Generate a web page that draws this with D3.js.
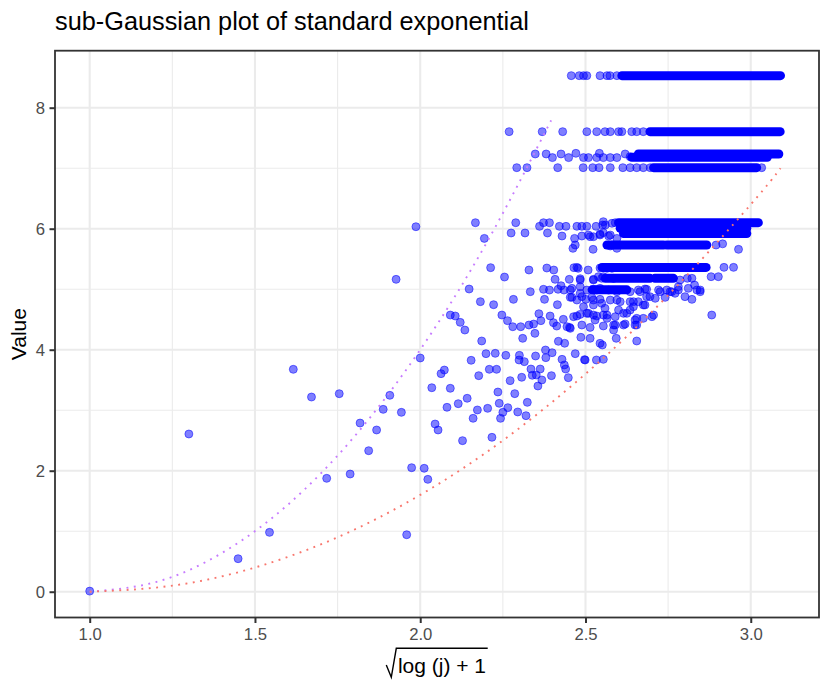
<!DOCTYPE html>
<html><head><meta charset="utf-8">
<script src="https://cdn.jsdelivr.net/npm/d3@7"></script>
<style>
body{margin:0;background:#fff}
svg{display:block}
text{font-family:"Liberation Sans",Arial,Helvetica,sans-serif}
</style>
</head><body>
<svg id="chart" width="830" height="692"></svg>
<script>
// ---------- data ----------
const pointX = [
 1.000,1.300,1.449,1.544,1.616,1.671,1.717,1.755,1.788,1.818,1.844,1.868,1.888,1.908,1.927,1.943,1.959,1.974,1.987,2.000,
 2.012,2.023,2.035,2.045,2.054,2.063,2.073,2.081,2.091,
 2.186,2.310,2.418,2.437,2.486,2.514,2.551,2.593,
 2.154,2.199,2.227,2.259,2.300,2.299,2.315,2.349,2.379,2.380,2.399,2.429,2.436,2.440,2.469,2.497,2.499,2.533,2.554,
 2.177,2.209,2.231,2.272,2.307,2.335,2.339,2.351,2.363,2.368,2.356,2.397,2.448,
 2.235,2.286,2.142,2.115,2.173,2.204,2.239,2.265,2.250,2.243,2.160,2.295,2.320,2.324,2.128,2.217,
 2.167,2.289,2.194,2.275,2.317,2.361,2.373,2.391,2.385,2.421,2.441,2.429,2.474,2.489,2.504,2.532,2.552,2.554,2.590,2.603,
 2.467,2.462,2.489,2.509,2.524,2.544,2.554,2.575,2.580,2.595,2.523,
 2.213,2.255,2.329,2.383,2.404,2.465,2.478,2.508,2.544,2.565,2.580,
 2.408,2.451,2.426,2.484,2.524,2.539,2.554,2.585,
 2.148,2.182,2.222,2.282,2.333,2.373,2.391,2.417,2.435,2.459,2.484,2.504,2.524,2.544,2.570,2.595,
 2.376,2.415,2.454,2.474,2.501,2.524,2.549,2.575,2.595,
 2.091,2.106,2.121,2.135,2.247,2.264,2.280,2.304,2.329,2.343,2.347,2.359,2.365,2.393,2.403,2.413,2.433,2.444,2.452,2.464,
 2.484,2.489,2.504,2.514,2.524,2.529,2.554,2.565,2.585,2.590,
 2.895,2.915,2.963,2.880,2.902,2.919,2.948,
 2.786,2.808,2.830,2.847,2.822,2.801,2.811,2.837,2.781,
 2.635,2.660,2.680,2.695,2.726,2.756,
 2.645,2.675,2.615,2.635,2.615,2.650,2.675,2.701,2.650,2.655,2.882,
 2.524,2.549,2.822,2.534,2.665,2.685,2.721,2.746,2.761,2.781,2.847,
 2.519,2.544,2.605,2.635,2.660,2.685,2.711,2.741,2.771,
 2.524,2.559,2.600,2.645,2.680,2.534,2.565,2.625,2.655,2.706,
 2.554,2.590,2.620,2.655,2.585,2.544,
 2.484,2.454,2.484,2.459,2.489,2.494,2.474,2.509,2.454,
 2.560,2.580,2.514,2.544,2.570,2.595,2.469,2.575,2.474,
 2.457,2.481,2.494,2.504,2.544,2.565,2.574,2.595,
 2.269,2.369,2.431,2.504,2.534,2.559,2.575,2.600,2.610,2.640,2.655,2.675,
 2.348,2.381,2.426,2.471,2.542,2.620,
 2.400,2.449,2.494,2.509,2.534,2.554,2.575,2.595,2.635,
 2.292,2.323,2.416,2.493,2.522,2.541,2.575,2.613,2.635,2.655,2.675,2.696,3.033
];
const pointY = [
 0.010,2.607,0.546,0.981,3.676,3.218,1.874,3.273,1.945,2.788,2.331,2.673,3.014,3.246,5.163,2.965,0.942,2.050,6.033,3.863,
 2.040,1.857,3.372,2.772,2.673,3.604,3.664,3.048,3.362,
 4.144,4.188,4.139,4.106,4.205,4.188,4.078,4.188,
 3.825,3.935,3.940,3.907,3.907,3.830,3.803,3.896,3.995,3.869,3.951,3.841,3.748,3.681,3.935,3.836,3.830,3.830,3.841,
 3.571,3.676,3.676,3.489,3.544,3.681,3.577,3.582,3.681,3.500,3.400,3.571,3.538,
 3.301,3.274,3.197,3.108,3.004,3.031,3.114,3.042,2.965,2.866,2.866,2.971,2.910,3.130,2.497,2.552,
 6.099,6.099,5.840,5.929,5.929,6.039,6.099,6.099,5.929,6.039,6.039,5.879,6.039,6.039,6.039,6.039,6.061,6.116,6.099,6.088,
 5.840,5.675,5.879,5.896,5.868,5.912,5.934,5.896,5.730,5.675,5.659,
 5.356,5.201,5.317,5.350,5.317,5.356,5.345,5.317,5.350,5.345,5.345,
 5.163,5.163,5.058,5.174,5.152,5.207,5.207,5.179,
 5.003,4.794,4.744,4.832,4.959,4.998,4.986,4.998,4.986,5.014,4.931,4.986,4.998,5.014,4.986,4.959,
 4.832,4.744,4.865,4.821,4.832,4.821,4.766,4.821,4.821,
 4.573,4.557,4.452,4.325,4.573,4.480,4.380,4.380,4.408,4.424,4.270,4.595,4.480,4.557,4.447,4.391,4.502,4.380,4.369,4.546,
 4.584,4.408,4.601,4.369,4.573,4.491,4.573,4.518,4.408,4.546,
 5.730,5.750,5.659,5.207,5.207,5.361,5.361,
 5.152,5.180,5.069,4.959,4.832,4.877,5.014,4.987,4.987,
 4.959,4.987,5.003,4.877,4.959,4.959,
 4.794,4.739,4.601,4.656,4.408,4.491,4.518,4.546,4.408,4.144,4.573,
 5.163,5.180,5.180,4.987,4.959,4.998,4.987,4.987,4.959,5.042,4.987,
 4.866,4.833,4.794,4.794,4.794,4.877,4.849,4.865,4.932,
 4.739,4.684,4.656,4.711,4.739,4.557,4.573,4.601,4.518,4.573,
 4.392,4.408,4.425,4.408,4.325,4.105,
 5.152,4.987,5.042,4.866,4.877,4.711,4.557,4.601,4.353,
 6.061,6.089,5.868,5.896,5.879,5.840,5.730,5.714,5.361,
 8.530,8.530,8.530,8.530,8.530,8.530,8.530,8.530,
 7.604,7.604,7.604,7.604,7.604,7.604,7.604,7.604,7.604,7.604,7.604,7.604,
 7.235,7.235,7.235,7.246,7.246,7.235,
 7.175,7.175,7.175,7.175,7.175,7.175,7.175,7.175,7.191,
 7.009,7.009,7.009,7.009,7.009,7.009,7.009,7.009,7.009,7.009,7.009,7.009,7.009
];
// runs of heavily overlapping points (drawn as a continuous row)
const bandY     = [8.530,7.604,7.235,7.180,7.009,6.100,6.006,5.920,5.730,5.730,5.360,5.180,5.180,4.990];
const bandStart = [2.610,2.695,2.660,2.640,2.706,2.600,2.605,2.615,2.565,2.746,2.550,2.560,2.710,2.520];
const bandEnd   = [3.090,3.089,3.085,3.050,3.018,3.023,2.988,2.988,2.736,2.867,2.865,2.695,2.766,2.625];
// reference curves
const redX    = [1.00,1.25,1.50,1.75,2.00,2.25,2.50,2.75,3.00,3.09];
const redY    = [0.00,0.10,0.40,0.90,1.60,2.50,3.60,4.90,6.40,7.00];
const purpleX = [1.00,1.20,1.40,1.60,1.80,2.00,2.20,2.396];
const purpleY = [0.00,0.16,0.64,1.44,2.56,4.00,5.76,7.79];
// axes
const xTickValues = [1.0,1.5,2.0,2.5,3.0];
const xTickLabels = ["1.0","1.5","2.0","2.5","3.0"];
const xMinor = [1.25,1.75,2.25,2.75];
const yTickValues = [0,2,4,6,8];
const yTickLabels = ["0","2","4","6","8"];
const yMinor = [1,3,5,7];
const titleText = "sub-Gaussian plot of standard exponential";
const yTitle = "Value";
const xTitleInner = "log (j) + 1";

// ---------- drawing ----------
const svg = d3.select("#chart");
const P = {left:55, right:819, top:50.7, bottom:617.5};
const x = d3.scaleLinear().domain([0.895, 3.2065]).range([P.left, P.right]);
const y = d3.scaleLinear().domain([-0.426, 8.942]).range([P.bottom, P.top]);

svg.append("rect").attr("width",830).attr("height",692).attr("fill","#fff");

const grid = svg.append("g");
grid.selectAll(".xmin").data(xMinor).join("line")
  .attr("x1",d=>x(d)).attr("x2",d=>x(d)).attr("y1",P.top).attr("y2",P.bottom)
  .attr("stroke","#EBEBEB").attr("stroke-width",1.1);
grid.selectAll(".ymin").data(yMinor).join("line")
  .attr("y1",d=>y(d)).attr("y2",d=>y(d)).attr("x1",P.left).attr("x2",P.right)
  .attr("stroke","#EBEBEB").attr("stroke-width",1.1);
grid.selectAll(".xmaj").data(xTickValues).join("line")
  .attr("x1",d=>x(d)).attr("x2",d=>x(d)).attr("y1",P.top).attr("y2",P.bottom)
  .attr("stroke","#EBEBEB").attr("stroke-width",2.1);
grid.selectAll(".ymaj").data(yTickValues).join("line")
  .attr("y1",d=>y(d)).attr("y2",d=>y(d)).attr("x1",P.left).attr("x2",P.right)
  .attr("stroke","#EBEBEB").attr("stroke-width",2.1);

const R = 4;
svg.append("g").selectAll("line").data(bandY).join("line")
  .attr("x1",(d,i)=>x(bandStart[i])).attr("x2",(d,i)=>x(bandEnd[i]))
  .attr("y1",d=>y(d)).attr("y2",d=>y(d))
  .attr("stroke","#0000FF").attr("stroke-width",2*R+1).attr("stroke-linecap","round");

svg.append("g").selectAll("circle").data(pointX).join("circle")
  .attr("cx",d=>x(d)).attr("cy",(d,i)=>y(pointY[i])).attr("r",R)
  .attr("fill","#0000FF").attr("fill-opacity",0.5)
  .attr("stroke","#0000FF").attr("stroke-opacity",0.5).attr("stroke-width",1);

const line = d3.line().x(d=>x(d[0])).y(d=>y(d[1])).curve(d3.curveNatural);
svg.append("path").datum(purpleX.map((v,i)=>[v,purpleY[i]]))
  .attr("d",line).attr("fill","none").attr("stroke","#C77CFF")
  .attr("stroke-width",1.9).attr("stroke-dasharray","1.9 5.5");
svg.append("path").datum(redX.map((v,i)=>[v,redY[i]]))
  .attr("d",line).attr("fill","none").attr("stroke","#F8766D")
  .attr("stroke-width",1.9).attr("stroke-dasharray","1.9 5.5");

svg.append("rect").attr("x",P.left).attr("y",P.top)
  .attr("width",P.right-P.left).attr("height",P.bottom-P.top)
  .attr("fill","none").attr("stroke","#333333").attr("stroke-width",1.8);

const xAxis = svg.append("g").attr("transform",`translate(0,${P.bottom})`)
  .call(d3.axisBottom(x).tickValues(xTickValues).tickFormat((d,i)=>xTickLabels[i]).tickSize(5.5).tickPadding(5));
const yAxis = svg.append("g").attr("transform",`translate(${P.left},0)`)
  .call(d3.axisLeft(y).tickValues(yTickValues).tickFormat((d,i)=>yTickLabels[i]).tickSize(5.5).tickPadding(4.5));
[xAxis,yAxis].forEach(a=>{
  a.select(".domain").remove();
  a.selectAll(".tick line").attr("stroke","#333333").attr("stroke-width",2);
  a.selectAll(".tick text").attr("fill","#4D4D4D").attr("font-size","16.7px")
   .attr("font-family","Liberation Sans, Arial, sans-serif");
});

svg.append("text").attr("x",55).attr("y",30).attr("font-size","25.3px").attr("fill","#000").text(titleText);

svg.append("text").attr("transform",`translate(25.5,${(P.top+P.bottom)/2}) rotate(-90)`)
  .attr("text-anchor","middle").attr("font-size","21px").attr("fill","#000").text(yTitle);

const cx = (P.left+P.right)/2;
const xt = svg.append("text").attr("y",673).attr("font-size","21px").attr("fill","#000").text(xTitleInner);
const tw = xt.node().getComputedTextLength();
const radW = 11.6, total = radW + tw + 1.7;
const left = cx - total/2;
xt.attr("x", left + radW);
svg.append("path")
  .attr("d",`M${left},${665} L${left+5},${677.3} L${left+10},${648.3} L${left+total},${648.3}`)
  .attr("fill","none").attr("stroke","#000").attr("stroke-width",1.4);
</script>
</body></html>
